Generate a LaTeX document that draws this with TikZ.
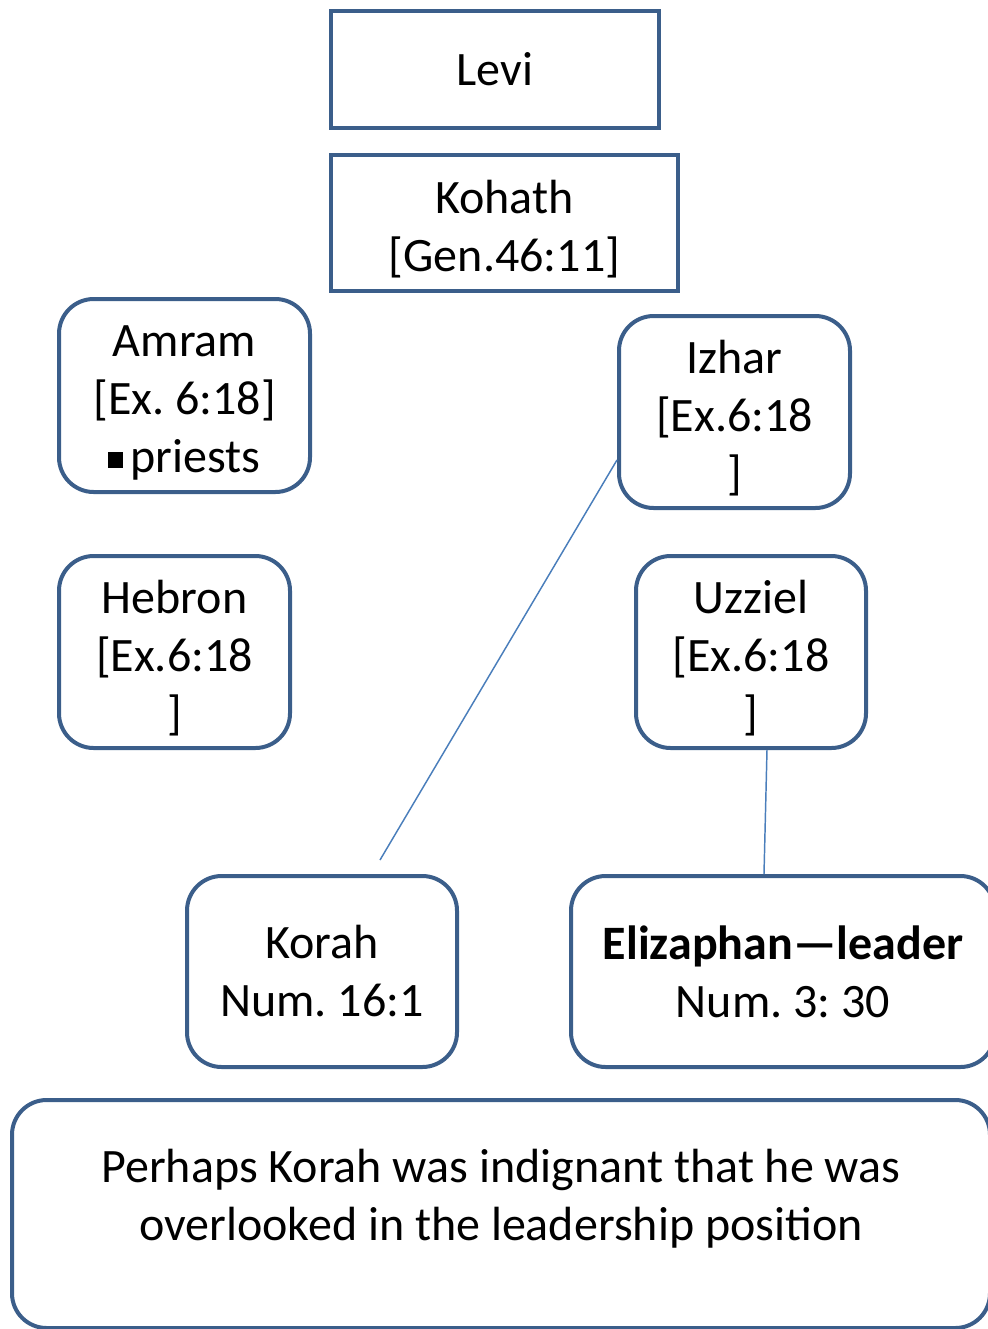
\documentclass[tikz,border=0pt]{standalone}
\usepackage{fontspec}
\setmainfont{Carlito}
\definecolor{boxline}{RGB}{59,94,138}
\definecolor{linkline}{RGB}{74,126,187}
\newcommand{\lift}{\rule{0pt}{34pt}}

\begin{document}
\frenchspacing
\begin{tikzpicture}[x=0.75pt, y=-0.75pt,
  box/.style={draw=boxline, line width=3pt, inner sep=0pt, align=center,
    font=\fontsize{36}{43.5}\selectfont},
  soft/.style={box, rounded corners=26pt},
  link/.style={draw=linkline, line width=1.1pt}]
\useasboundingbox (0,0) rectangle (988,1329);
\clip (0,0) rectangle (988,1329);
\node[box, minimum width=246pt, minimum height=87.75pt] (levi) at (495,69.5) {Levi};
\node[box, minimum width=260.25pt, minimum height=102pt] (kohath) at (504.5,223) {\lift Kohath\\{[}Gen.46:11{]}};
\node[soft, minimum width=188.25pt, minimum height=144.75pt] (amram) at (184.5,395.5)
  {\lift Amram\\{[}Ex. 6:18{]}\\\rule[0.1em]{0.3em}{0.32em}\,priests};
\node[soft, minimum width=173.25pt, minimum height=144pt] (izhar) at (734.5,412) {\lift Izhar\\{[}Ex.6:18\\{]}};
\node[soft, minimum width=173.25pt, minimum height=144pt] (hebron) at (174.5,652) {\lift Hebron\\{[}Ex.6:18\\{]}};
\node[soft, minimum width=172.5pt, minimum height=144pt] (uzziel) at (751,652) {\lift Uzziel\\{[}Ex.6:18\\{]}};
\node[soft, minimum width=202.5pt, minimum height=143.25pt] (korah) at (322,971.5) {Korah\\Num. 16:1};
\node[soft, minimum width=318pt, minimum height=143.25pt] (elizaphan) at (783,971.5)
  {\textbf{Elizaphan—leader}\\Num. 3: 30};
\node[soft, minimum width=733.5pt, minimum height=171pt] (note) at (501,1214)
  {Perhaps Korah was indignant that he was\\overlooked in the leadership position\\[-15pt]\mbox{}};
\coordinate (korahtip) at (380,860);
\draw[link] ([yshift=-36pt]izhar.west) -- (korahtip);
\draw[link] ([xshift=12pt]uzziel.south) -- ([xshift=-14.25pt]elizaphan.north);
\end{tikzpicture}
\end{document}
